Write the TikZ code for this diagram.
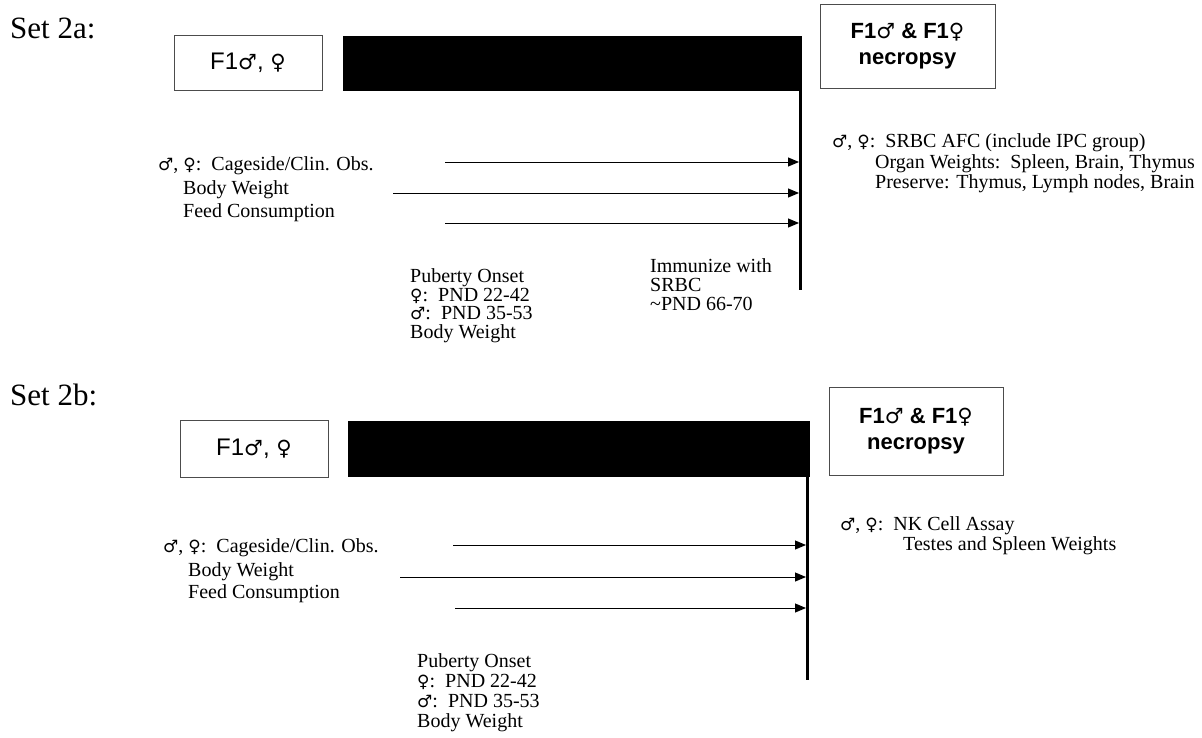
\documentclass[tikz,border=0pt]{standalone}
\usepackage{fontspec}
\setmainfont{Liberation Serif}
\newfontfamily\arialf{Liberation Sans}
\newfontfamily\symf{DejaVu Sans}
\usetikzlibrary{arrows.meta}
\newcommand{\mMale}{{\symf\fontsize{17}{17}\selectfont ♂}}
\newcommand{\mFemale}{{\symf\fontsize{17}{17}\selectfont ♀}}
\newcommand{\bMale}{{\symf\fontsize{21}{21}\selectfont ♂}}
\newcommand{\bFemale}{{\symf\fontsize{21}{21}\selectfont ♀}}
\begin{document}
\begin{tikzpicture}[x=1pt,y=-1pt,
  txt/.style={anchor=base west, inner sep=0pt, font=\fontsize{20}{23}\selectfont},
  settitle/.style={anchor=base west, inner sep=0pt, font=\fontsize{31}{34}\selectfont},
  labelbox/.style={draw=black!70, line width=0.9pt, inner sep=0pt, font=\arialf\fontsize{24}{26}\selectfont},
  necbox/.style={draw=black!70, line width=0.9pt, inner sep=0pt, align=center, font=\arialf\bfseries\fontsize{22}{26}\selectfont},
  barbox/.style={fill=black, draw=black, inner sep=0pt},
  tline/.style={line width=3pt},
  flow/.style={line width=1pt, shorten >=1.5pt, -{Triangle[length=11pt,width=9pt]}}]
\useasboundingbox (0,0) rectangle (1202,737);

% ---------------- Set 2a ----------------
\node[settitle] (t2a) at (10,38) {Set 2a:};
\node[labelbox, minimum width=148pt, minimum height=55pt] (f1a) at (248,62.5) {F1\bMale, \bFemale};
\node[barbox, minimum width=458pt, minimum height=54pt] (bara) at (572,63) {};
\node[necbox, minimum width=175pt, minimum height=84pt] (neca) at (907.5,46) {F1\bMale{} \& F1\bFemale\\necropsy};
\coordinate (va) at (800.5,290);
\draw[tline] (bara.south east -| va) -- (va);

\coordinate (a1) at (445,162);
\coordinate (a2) at (393,193);
\coordinate (a3) at (445,223);
\draw[flow] (a1) -- (a1 -| va);
\draw[flow] (a2) -- (a2 -| va);
\draw[flow] (a3) -- (a3 -| va);

\node[txt] (la1) at (158,170) {\mMale, \mFemale:\, Cageside/Clin. Obs.};
\node[txt] (la2) at (183,194) {Body Weight};
\node[txt] (la3) at (183,217) {Feed Consumption};

\node[txt] (pa1) at (410,282) {Puberty Onset};
\node[txt] (pa2) at (410,301) {\mFemale:\, PND 22-42};
\node[txt] (pa3) at (410,319) {\mMale:\, PND 35-53};
\node[txt] (pa4) at (410,338) {Body Weight};

\node[txt] (ia1) at (650,272) {Immunize with};
\node[txt] (ia2) at (650,291) {SRBC};
\node[txt] (ia3) at (650,310) {\textasciitilde PND 66-70};

\node[txt] (ra1) at (832,147) {\mMale, \mFemale:\, SRBC AFC (include IPC group)};
\node[txt] (ra2) at (875,168) {Organ Weights:\, Spleen, Brain, Thymus};
\node[txt] (ra3) at (875,188) {Preserve: Thymus, Lymph nodes, Brain};

% ---------------- Set 2b ----------------
\node[settitle] (t2b) at (10,405) {Set 2b:};
\node[labelbox, minimum width=148pt, minimum height=57pt] (f1b) at (254,448.5) {F1\bMale, \bFemale};
\node[barbox, minimum width=461pt, minimum height=55pt] (barb) at (578.5,448.5) {};
\node[necbox, minimum width=174pt, minimum height=88pt] (necb) at (916,431) {F1\bMale{} \& F1\bFemale\\necropsy};
\coordinate (vb) at (807.5,680);
\draw[tline] (barb.south east -| vb) -- (vb);

\coordinate (b1) at (453,545);
\coordinate (b2) at (400,577);
\coordinate (b3) at (455,608);
\draw[flow] (b1) -- (b1 -| vb);
\draw[flow] (b2) -- (b2 -| vb);
\draw[flow] (b3) -- (b3 -| vb);

\node[txt] (lb1) at (163,552) {\mMale, \mFemale:\, Cageside/Clin. Obs.};
\node[txt] (lb2) at (188,576) {Body Weight};
\node[txt] (lb3) at (188,598) {Feed Consumption};

\node[txt] (pb1) at (417,667) {Puberty Onset};
\node[txt] (pb2) at (417,687) {\mFemale:\, PND 22-42};
\node[txt] (pb3) at (417,707) {\mMale:\, PND 35-53};
\node[txt] (pb4) at (417,727) {Body Weight};

\node[txt] (rb1) at (840,530) {\mMale, \mFemale:\, NK Cell Assay};
\node[txt] (rb2) at (903,550) {Testes and Spleen Weights};
\end{tikzpicture}
\end{document}
